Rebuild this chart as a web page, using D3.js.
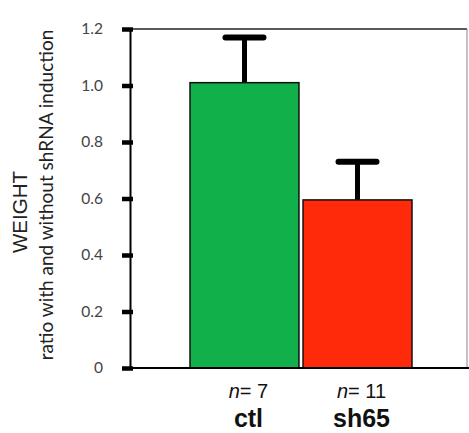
<!DOCTYPE html>
<html>
<head>
<meta charset="utf-8">
<script src="https://cdn.jsdelivr.net/npm/d3@7"></script>
<style>
  body { margin: 0; background: #fff; }
  svg { display: block; }
</style>
</head>
<body>
<svg width="469" height="433"></svg>
<script>
const categories = ["ctl", "sh65"];
const counts = [7, 11];
const means = [1.01, 0.595];
const errTops = [1.17, 0.73];
const barColors = ["#12b04a", "#ff2a0a"];
const yTicks = [0, 0.2, 0.4, 0.6, 0.8, 1.0, 1.2];
const yTickLabels = ["0", "0.2", "0.4", "0.6", "0.8", "1.0", "1.2"];

const svg = d3.select("svg");

const x0 = 130, x1 = 467, yTop = 29, yBottom = 368;

const x = d3.scaleBand().domain(categories).range([190, 412]).paddingInner(0.036).paddingOuter(0);
const y = d3.scaleLinear().domain([0, 1.2]).range([yBottom, yTop]);

// frame: top and right
svg.append("path")
  .attr("d", `M${x0},${yTop}H${x1}`)
  .attr("fill", "none")
  .attr("stroke", "#222")
  .attr("stroke-width", 1.5);
svg.append("path")
  .attr("d", `M${x1},${yTop}V${yBottom}`)
  .attr("fill", "none")
  .attr("stroke", "#888")
  .attr("stroke-width", 1);

const data = categories.map((c, i) => ({ c, n: counts[i], m: means[i], e: errTops[i], col: barColors[i] }));

// error bars (drawn before bars so the stem sits behind the bar top)
const err = svg.append("g").selectAll("g").data(data).join("g");
err.append("line")
  .attr("x1", d => x(d.c) + x.bandwidth() / 2)
  .attr("x2", d => x(d.c) + x.bandwidth() / 2)
  .attr("y1", d => y(d.m))
  .attr("y2", d => y(d.e))
  .attr("stroke", "#000").attr("stroke-width", 5);
err.append("line")
  .attr("x1", d => x(d.c) + x.bandwidth() / 2 - 19)
  .attr("x2", d => x(d.c) + x.bandwidth() / 2 + 19)
  .attr("y1", d => y(d.e))
  .attr("y2", d => y(d.e))
  .attr("stroke", "#000").attr("stroke-width", 6).attr("stroke-linecap", "round");

svg.append("g").selectAll("rect").data(data).join("rect")
  .attr("x", d => x(d.c))
  .attr("width", x.bandwidth())
  .attr("y", d => y(d.m))
  .attr("height", d => yBottom - y(d.m))
  .attr("fill", d => d.col)
  .attr("stroke", "#111")
  .attr("stroke-width", 1.5);

// y axis
const yAxis = svg.append("g")
  .attr("transform", `translate(${x0},0)`)
  .call(d3.axisLeft(y).tickValues(yTicks).tickFormat((d, i) => yTickLabels[i]).tickSize(8).tickPadding(19));
yAxis.select(".domain").attr("stroke", "#000").attr("stroke-width", 2);
yAxis.selectAll(".tick line").attr("stroke", "#000").attr("stroke-width", 4.5).attr("x2", 3).attr("x1", -8);
yAxis.selectAll(".tick text")
  .attr("font-family", "Lato, 'Open Sans', sans-serif")
  .attr("font-size", 15.5)
  .attr("fill", "#444");

// x baseline
svg.append("line")
  .attr("x1", 122).attr("x2", 469)
  .attr("y1", yBottom).attr("y2", yBottom)
  .attr("stroke", "#000").attr("stroke-width", 2);

// category labels
const lab = svg.append("g").selectAll("g").data(data).join("g")
  .attr("transform", d => `translate(${x(d.c) + x.bandwidth() / 2 + 4},0)`);
const nt = lab.append("text")
  .attr("y", 398)
  .attr("text-anchor", "middle")
  .attr("font-family", "'Liberation Sans', Arial, sans-serif")
  .attr("font-size", 20)
  .attr("fill", "#111");
nt.append("tspan").attr("font-style", "italic").text("n");
nt.append("tspan").text(d => "= " + d.n);
lab.append("text")
  .attr("y", 427)
  .attr("text-anchor", "middle")
  .attr("font-family", "'Liberation Sans', Arial, sans-serif")
  .attr("font-size", 25)
  .attr("font-weight", "bold")
  .attr("fill", "#111")
  .text(d => d.c);

// y titles
svg.append("text")
  .attr("transform", "translate(27,212) rotate(-90)")
  .attr("text-anchor", "middle")
  .attr("font-family", "'Liberation Sans', Arial, sans-serif")
  .attr("font-size", 20.5)
  .attr("fill", "#222")
  .text("WEIGHT");
svg.append("text")
  .attr("transform", "translate(53,195) rotate(-90)")
  .attr("text-anchor", "middle")
  .attr("font-family", "Lato, 'Open Sans', sans-serif")
  .attr("font-size", 19)
  .attr("fill", "#222")
  .text("ratio with and without shRNA induction");
</script>
</body>
</html>
